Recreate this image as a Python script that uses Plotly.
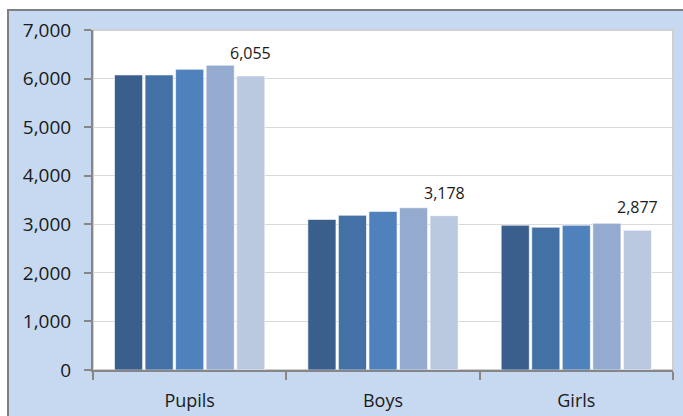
import plotly.graph_objects as go

categories = ["Pupils", "Boys", "Girls"]
series_names = ["Series 1", "Series 2", "Series 3", "Series 4", "Series 5"]
series_values = [
    [6075, 3100, 2980],
    [6075, 3185, 2940],
    [6190, 3265, 2980],
    [6275, 3340, 3020],
    [6055, 3178, 2877],
]
colors = ["#3B5F8D", "#4471A5", "#4F81BD", "#95AACF", "#BAC8E0"]
label_series = 4  # only the last series is labelled
y_ticks = [0, 1000, 2000, 3000, 4000, 5000, 6000, 7000]

W, H = 683, 416
L, R, T, B = 93, 10, 30, 46
pw, ph = W - L - R, H - T - B
BARGAP = 0.21
n_series = len(series_values)

def px_x(p):
    return (p - L) / pw

def px_y(q):
    return (H - B - q) / ph

fig = go.Figure()
for i, (name, vals) in enumerate(zip(series_names, series_values)):
    fig.add_trace(go.Bar(
        x=categories, y=vals, name=name,
        marker=dict(color=colors[i], line=dict(color="rgba(255,255,255,0.6)", width=1)),
        showlegend=False,
        hoverinfo="x+y+name",
    ))

# data labels over the last series (shift derived from the group layout)
slot_px = pw / len(categories) * (1 - BARGAP) / n_series
x_off = (label_series - (n_series - 1) / 2) * slot_px
annotations = [
    dict(x=c, y=v, xref="x", yref="y", text=f"{v:,}", showarrow=False,
         xshift=x_off, yshift=23, yanchor="middle",
         font=dict(family="Open Sans", size=16, color="#1a1a1a"))
    for c, v in zip(categories, series_values[label_series])
]

fig.update_layout(
    width=W, height=H,
    margin=dict(l=L, r=R, t=T, b=B, pad=0, autoexpand=False),
    barmode="group", bargap=BARGAP, bargroupgap=0.08,
    paper_bgcolor="white", plot_bgcolor="white",
    font=dict(family="Open Sans", color="#1a1a1a"),
    annotations=annotations,
    shapes=[
        dict(type="rect", xref="paper", yref="paper", layer="below",
             x0=px_x(8), x1=px_x(W + 5), y0=px_y(H + 5), y1=px_y(10),
             fillcolor="#C6D9F0", line=dict(color="#808080", width=2)),
        dict(type="rect", xref="paper", yref="paper", layer="below",
             x0=0, x1=1, y0=0, y1=1,
             fillcolor="white", line=dict(color="#D0D0D0", width=2)),
    ],
)

fig.update_yaxes(
    range=[0, 7000], tickvals=y_ticks, tickformat=",",
    showgrid=True, gridcolor="#D9D9D9", gridwidth=1,
    showline=True, linecolor="#868686", linewidth=2,
    ticks="outside", ticklen=7, tickcolor="#868686", tickwidth=2,
    tickfont=dict(family="Open Sans", size=19, color="#1a1a1a"),
    ticklabelstandoff=9, zeroline=False, automargin=False,
)
fig.update_xaxes(
    showline=True, linecolor="#868686", linewidth=2,
    ticks="outside", tickson="boundaries", ticklen=8, tickcolor="#868686", tickwidth=2,
    tickfont=dict(family="Open Sans", size=18, color="#1a1a1a"),
    ticklabelstandoff=13, automargin=False,
)

fig.write_html("out.html", config={"displayModeBar": False},
               post_script="document.body.style.margin='0';")
